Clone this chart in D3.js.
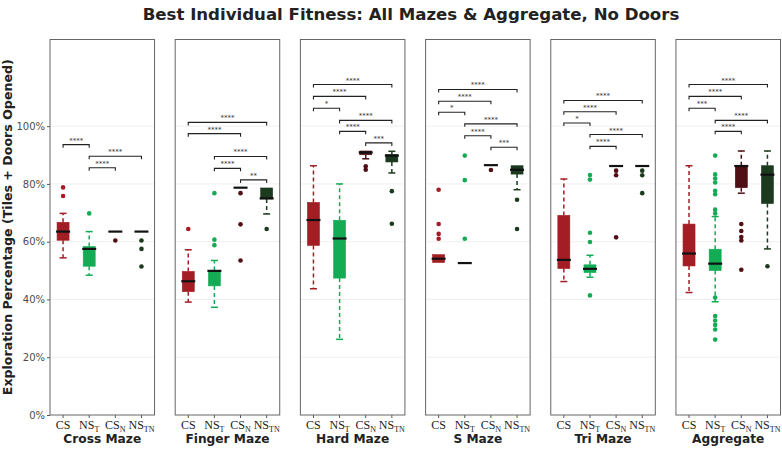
<!DOCTYPE html>
<html><head><meta charset="utf-8">
<script src="https://cdn.jsdelivr.net/npm/d3@7"></script>
<style>body{margin:0;background:#fff} svg{display:block}</style>
</head><body><svg id="c" width="782" height="449"></svg>
<script>
const title = "Best Individual Fitness: All Mazes & Aggregate, No Doors";
const yTitle = "Exploration Percentage (Tiles + Doors Opened)";
const panels = ["Cross Maze", "Finger Maze", "Hard Maze", "S Maze", "Tri Maze", "Aggregate"];
const groups = ["CS", "NS_T", "CS_N", "NS_TN"];
const groupBase = ["CS", "NS", "CS", "NS"];
const groupSub = ["", "T", "N", "TN"];
const colors = ["#a31d24", "#14ab55", "#4f0f14", "#1b3a1e"];
const yTicks = [0, 0.2, 0.4, 0.6, 0.8, 1.0];

// box stats per group: [lower whisker, q1, median, q3, upper whisker]
const crossBox = [[0.544,0.605,0.635,0.667,0.698],[0.484,0.515,0.575,0.583,0.635],[0.635,0.635,0.635,0.635,0.635],[0.635,0.635,0.635,0.635,0.635]];
const fingerBox = [[0.391,0.427,0.463,0.497,0.572],[0.373,0.447,0.499,0.500,0.535],[0.787,0.787,0.787,0.787,0.787],[0.696,0.748,0.750,0.786,0.786]];
const hardBox = [[0.437,0.587,0.675,0.736,0.863],[0.262,0.474,0.611,0.674,0.800],[0.887,0.901,0.909,0.914,0.914],[0.838,0.876,0.898,0.902,0.913]];
const sBox = [[0.528,0.528,0.541,0.555,0.555],[0.526,0.526,0.526,0.526,0.526],[0.865,0.865,0.865,0.865,0.865],[0.780,0.834,0.849,0.863,0.863]];
const triBox = [[0.462,0.507,0.537,0.691,0.817],[0.477,0.493,0.506,0.520,0.553],[0.862,0.862,0.862,0.862,0.862],[0.862,0.862,0.862,0.862,0.862]];
const aggBox = [[0.424,0.516,0.559,0.661,0.863],[0.392,0.500,0.524,0.574,0.687],[0.768,0.787,0.862,0.863,0.914],[0.575,0.732,0.832,0.863,0.914]];

// outliers per group
const crossOut = [[0.788,0.758],[0.698],[0.604],[0.604,0.575,0.514]];
const fingerOut = [[0.644],[0.768,0.607,0.588],[0.768,0.660,0.535],[0.644]];
const hardOut = [[],[],[0.861,0.849],[0.775,0.662]];
const sOut = [[0.780,0.661,0.627,0.610],[0.898,0.813,0.610],[0.848],[0.745,0.644]];
const triOut = [[],[0.831,0.815,0.631,0.599,0.414],[0.846,0.830,0.615],[0.846,0.830,0.768]];
const aggOut = [[],[0.898,0.833,0.819,0.805,0.776,0.764,0.711,0.698,0.407,0.343,0.327,0.312,0.296,0.261],[0.661,0.637,0.616,0.604,0.503],[0.515]];

// significance brackets: [from group, to group, level, label]
const crossSig = [[0,1,0.936,"****"],[1,3,0.896,"****"],[1,2,0.856,"****"]];
const fingerSig = [[0,3,1.013,"****"],[0,2,0.974,"****"],[1,3,0.895,"****"],[1,2,0.854,"****"],[2,3,0.814,"**"]];
const hardSig = [[0,3,1.144,"****"],[0,2,1.103,"****"],[0,1,1.062,"*"],[1,3,1.020,"****"],[1,2,0.982,"****"],[2,3,0.942,"***"]];
const sSig = [[0,3,1.127,"****"],[0,2,1.086,"****"],[0,1,1.048,"*"],[1,3,1.008,"****"],[1,2,0.967,"****"],[2,3,0.927,"***"]];
const triSig = [[0,3,1.089,"****"],[0,2,1.050,"****"],[0,1,1.011,"*"],[1,3,0.971,"****"],[1,2,0.930,"****"]];
const aggSig = [[0,3,1.144,"****"],[0,2,1.103,"****"],[0,1,1.062,"***"],[1,3,1.020,"****"],[1,2,0.982,"****"]];

const allBox = [crossBox, fingerBox, hardBox, sBox, triBox, aggBox];
const allOut = [crossOut, fingerOut, hardOut, sOut, triOut, aggOut];
const allSig = [crossSig, fingerSig, hardSig, sSig, triSig, aggSig];

const svg = d3.select("#c");
const plotTop = 39.5, plotBottom = 415;
const H = plotBottom - plotTop;
const xPanel = d3.scaleBand().domain(panels).range([50, 780.5]).paddingInner(0.165).paddingOuter(0);
const pw = xPanel.bandwidth();
const y = d3.scaleLinear().domain([0, 1.3]).range([H, 0]);
const x = d3.scaleBand().domain(groups).range([0, pw]).padding(0);
const sans = "'DejaVu Sans', sans-serif";
const serif = "'Liberation Serif', 'DejaVu Serif', serif";

svg.append("text").attr("x", 411).attr("y", 20).attr("text-anchor", "middle")
  .attr("font-family", sans).attr("font-weight", "bold").attr("font-size", 16.6)
  .attr("fill", "#222").text(title);

svg.append("text").attr("transform", `translate(12,${plotTop + H/2}) rotate(-90)`)
  .attr("text-anchor", "middle").attr("font-family", sans).attr("font-weight", "bold")
  .attr("font-size", 12.6).attr("fill", "#222").text(yTitle);

const boxW = 12, medW = 14, capW = 7;

panels.forEach((p, pi) => {
  const g = svg.append("g").attr("transform", `translate(${xPanel(p)},${plotTop})`);
  g.selectAll("line.grid").data(yTicks.filter(t => t > 0)).enter().append("line")
    .attr("class", "grid")
    .attr("x1", 0).attr("x2", pw).attr("y1", d => y(d)).attr("y2", d => y(d))
    .attr("stroke", "#ebebeb").attr("stroke-width", 0.8);

  if (pi === 0) {
    const ya = g.append("g").call(d3.axisLeft(y).tickValues(yTicks).tickFormat(d3.format(".0%")).tickSize(3).tickPadding(2));
    ya.select(".domain").remove();
    ya.selectAll("text").attr("font-family", sans).attr("font-size", 10).attr("fill", "#4d4d4d");
    ya.selectAll("line").attr("stroke", "#555");
  }

  const xa = g.append("g").attr("transform", `translate(0,${H})`)
    .call(d3.axisBottom(x).tickSize(3).tickFormat(""));
  xa.select(".domain").remove();
  xa.selectAll("line").attr("stroke", "#555");
  xa.selectAll(".tick").each(function(d, i) {
    const t = d3.select(this).append("text").attr("y", 14).attr("text-anchor", "middle")
      .attr("font-family", serif).attr("font-size", 12).attr("fill", "#222");
    t.append("tspan").text(groupBase[i]);
    if (groupSub[i]) t.append("tspan").attr("dy", 2.5).attr("font-size", 8).text(groupSub[i]);
  });

  g.append("text").attr("x", pw/2).attr("y", H + 28).attr("text-anchor", "middle")
    .attr("font-family", sans).attr("font-weight", "bold").attr("font-size", 12.2).attr("fill", "#222").text(p);

  const boxes = allBox[pi];
  boxes.forEach((b, gi) => {
    const cx = x(groups[gi]) + x.bandwidth()/2;
    const col = colors[gi];
    const [lo, q1, med, q3, hi] = b;
    const bg = g.append("g");
    if (hi > q3) {
      bg.append("line").attr("x1", cx).attr("x2", cx).attr("y1", y(q3)).attr("y2", y(hi))
        .attr("stroke", col).attr("stroke-width", 1.5).attr("stroke-dasharray", "4,3");
      bg.append("line").attr("x1", cx - capW/2).attr("x2", cx + capW/2).attr("y1", y(hi)).attr("y2", y(hi))
        .attr("stroke", col).attr("stroke-width", 1.5);
    }
    if (lo < q1) {
      bg.append("line").attr("x1", cx).attr("x2", cx).attr("y1", y(q1)).attr("y2", y(lo))
        .attr("stroke", col).attr("stroke-width", 1.5).attr("stroke-dasharray", "4,3");
      bg.append("line").attr("x1", cx - capW/2).attr("x2", cx + capW/2).attr("y1", y(lo)).attr("y2", y(lo))
        .attr("stroke", col).attr("stroke-width", 1.5);
    }
    if (q3 > q1) {
      bg.append("rect").attr("x", cx - boxW/2).attr("width", boxW)
        .attr("y", y(q3)).attr("height", y(q1) - y(q3))
        .attr("fill", col).attr("stroke", col).attr("stroke-width", 0.6);
    }
    bg.append("line").attr("x1", cx - medW/2).attr("x2", cx + medW/2).attr("y1", y(med)).attr("y2", y(med))
      .attr("stroke", "#111").attr("stroke-width", 2.2);
    bg.selectAll("circle").data(allOut[pi][gi]).enter().append("circle")
      .attr("cx", cx).attr("cy", d => y(d)).attr("r", 2.3).attr("fill", col);
  });

  const sig = allSig[pi];
  sig.forEach(s => {
    const x1 = x(groups[s[0]]) + x.bandwidth()/2;
    const x2 = x(groups[s[1]]) + x.bandwidth()/2;
    const yy = y(s[2]);
    g.append("path").attr("d", `M${x1},${yy + 3}V${yy}H${x2}V${yy + 3}`)
      .attr("fill", "none").attr("stroke", "#222").attr("stroke-width", 1.1);
    g.append("text").attr("x", (x1 + x2)/2).attr("y", yy - 2).attr("text-anchor", "middle")
      .attr("font-family", sans).attr("font-size", 7).attr("fill", "#333").text(s[3]);
  });

  g.append("rect").attr("x", 0).attr("y", 0).attr("width", pw).attr("height", H)
    .attr("fill", "none").attr("stroke", "#666").attr("stroke-width", 1);
});
</script></body></html>
